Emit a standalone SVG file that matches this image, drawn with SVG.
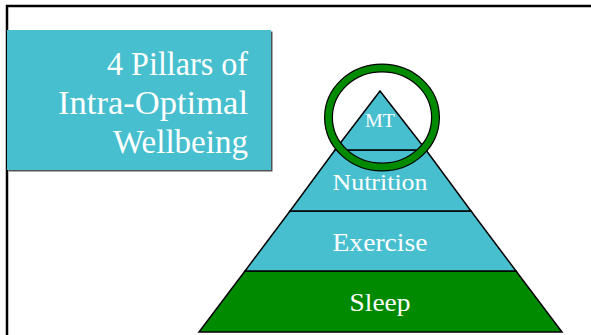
<svg xmlns="http://www.w3.org/2000/svg" width="591" height="335" viewBox="0 0 591 335">
  <style>
    .tier { fill: #47BFCF; stroke: #000; stroke-width: 1.5; stroke-linejoin: miter; }
    .base { fill: #008A00; stroke: #000; stroke-width: 1.5; }
    .lbl { font-family: "Liberation Serif", "Times New Roman", serif; fill: #fff; text-anchor: middle; }
    .title { font-family: "Liberation Serif", "Times New Roman", serif; fill: #fff; text-anchor: end; font-size: 33px; }
  </style>
  <rect width="591" height="335" fill="#fff"/>
  <!-- frame lines -->
  <path d="M7 335 V6 H591" fill="none" stroke="#000" stroke-width="2.5"/>

  <!-- title box -->
  <g id="title">
    <rect x="8.5" y="31.5" width="264" height="140" fill="#555"/>
    <rect x="7" y="30" width="264" height="140" fill="#47BFCF"/>
    <text class="title" x="248" y="75" textLength="141" lengthAdjust="spacingAndGlyphs">4 Pillars of</text>
    <text class="title" x="248" y="114" textLength="190" lengthAdjust="spacingAndGlyphs">Intra-Optimal</text>
    <text class="title" x="248" y="153" textLength="135" lengthAdjust="spacingAndGlyphs">Wellbeing</text>
  </g>

  <!-- pyramid tiers -->
  <g id="tier-sleep">
    <polygon class="base" points="245,271 516,271 562,332 199,332"/>
    <text class="lbl" x="380" y="311" font-size="26" textLength="61" lengthAdjust="spacingAndGlyphs">Sleep</text>
  </g>
  <g id="tier-exercise">
    <polygon class="tier" points="290,211 471,211 516,271 245,271"/>
    <text class="lbl" x="380" y="251" font-size="25" textLength="95" lengthAdjust="spacingAndGlyphs">Exercise</text>
  </g>
  <g id="tier-nutrition">
    <polygon class="tier" points="335,150 426,150 471,211 290,211"/>
    <text class="lbl" x="380" y="190" font-size="24" textLength="95" lengthAdjust="spacingAndGlyphs">Nutrition</text>
  </g>
  <g id="tier-mt">
    <polygon class="tier" points="380,91 426,150 335,150"/>
    <text class="lbl" x="380" y="127" font-size="18" textLength="30" lengthAdjust="spacingAndGlyphs">MT</text>
  </g>

  <!-- highlight ring -->
  <g id="ring">
    <ellipse cx="382" cy="117.5" rx="53.5" ry="49.5" fill="none" stroke="#000" stroke-width="9"/>
    <ellipse cx="382" cy="117.5" rx="53.5" ry="49.5" fill="none" stroke="#008A00" stroke-width="6.5"/>
  </g>
</svg>
